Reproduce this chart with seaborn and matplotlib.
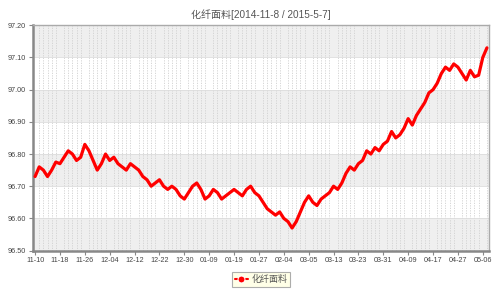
import matplotlib
matplotlib.use("Agg")
import matplotlib.pyplot as plt
import seaborn as sns
import pandas as pd
import numpy as np

title = "化纤面料[2014-11-8 / 2015-5-7]"
series_name = "化纤面料"

tick_labels = ['11-10', '11-18', '11-26', '12-04', '12-12', '12-22', '12-30', '01-09',
               '01-19', '01-27', '02-04', '03-05', '03-13', '03-23', '03-31', '04-09',
               '04-17', '04-27', '05-06']

values = [
    96.73, 96.76, 96.75, 96.73, 96.75, 96.775, 96.77, 96.79, 96.81, 96.80,
    96.78, 96.79, 96.83, 96.81, 96.78, 96.75, 96.77, 96.80, 96.78, 96.79,
    96.77, 96.76, 96.75, 96.77, 96.76, 96.75, 96.73, 96.72, 96.70, 96.71,
    96.72, 96.70, 96.69, 96.70, 96.69, 96.67, 96.66, 96.68, 96.70, 96.71,
    96.69, 96.66, 96.67, 96.69, 96.68, 96.66, 96.67, 96.68, 96.69, 96.68,
    96.67, 96.69, 96.70, 96.68, 96.67, 96.65, 96.63, 96.62, 96.61, 96.62,
    96.60, 96.59, 96.57, 96.59, 96.62, 96.65, 96.67, 96.65, 96.64, 96.66,
    96.67, 96.68, 96.70, 96.69, 96.71, 96.74, 96.76, 96.75, 96.77, 96.78,
    96.81, 96.80, 96.82, 96.81, 96.83, 96.84, 96.87, 96.85, 96.86, 96.88,
    96.91, 96.89, 96.92, 96.94, 96.96, 96.99, 97.00, 97.02, 97.05, 97.07,
    97.06, 97.08, 97.07, 97.05, 97.03, 97.06, 97.04, 97.045, 97.10, 97.13,
]

y_ticks = [96.50, 96.60, 96.70, 96.80, 96.90, 97.00, 97.10, 97.20]

sns.set_theme(style="white")
plt.rcParams['font.family'] = ['Liberation Sans', 'Noto Sans CJK SC', 'DejaVu Sans']

df = pd.DataFrame({"idx": range(len(values)), "value": values})

fig = plt.figure(figsize=(5.0, 2.91), dpi=100)
ax = fig.add_axes([0.066, 0.139, 0.912, 0.774])

# alternating bands
for i in range(len(y_ticks) - 1):
    if i % 2 == 0:
        ax.axhspan(y_ticks[i], y_ticks[i + 1], color='#efefef', zorder=0, lw=0)

sns.lineplot(data=df, x="idx", y="value", ax=ax, color='#ff0000', linewidth=2.3,
             label=series_name, zorder=5, solid_joinstyle='round', solid_capstyle='round',
             marker='o', markersize=0, markevery=[])

ax.set_xlim(-0.5, len(values) - 0.5)
ax.set_ylim(96.50, 97.20)
ax.set_yticks(y_ticks)
ax.set_yticklabels([f"{v:.2f}" for v in y_ticks])
ax.set_xticks([i * 6 for i in range(len(tick_labels))])
ax.set_xticklabels(tick_labels)
ax.set_xticks(range(len(values)), minor=True)

ax.grid(False)
ax.grid(which='minor', axis='x', color='#d0d0d0', linestyle=(0, (1.5, 1.5)), linewidth=0.6, zorder=1)
ax.grid(which='major', axis='y', color='#dddddd', linestyle='-', linewidth=0.6, zorder=1)
ax.set_axisbelow(True)

ax.set_xlabel("")
ax.set_ylabel("")
ax.tick_params(axis='both', which='major', labelsize=5.2, labelcolor='#444444',
               direction='out', length=3, width=0.8, color='#888888', pad=2, left=True, bottom=True)
ax.tick_params(axis='x', which='minor', length=0)

for side in ['left', 'bottom']:
    ax.spines[side].set_color('#888888')
    ax.spines[side].set_linewidth(1.8)
for side in ['top', 'right']:
    ax.spines[side].set_color('#aaaaaa')
    ax.spines[side].set_linewidth(1.0)

ax.set_title(title, fontsize=7.2, color='#555555', pad=5)

leg = ax.legend(loc='upper center', bbox_to_anchor=(0.5, -0.075), frameon=True,
                fontsize=6.5, handlelength=1.4, borderpad=0.35, handletextpad=0.4,
                fancybox=False)
leg.get_frame().set_facecolor('#ffffe1')
leg.get_frame().set_edgecolor('#999999')
leg.get_frame().set_linewidth(0.8)
for t in leg.get_texts():
    t.set_color('#555555')
for h in leg.legend_handles:
    h.set_marker('o')
    h.set_markersize(5)
    h.set_linewidth(1.5)

fig.savefig("out.png", dpi=100)
